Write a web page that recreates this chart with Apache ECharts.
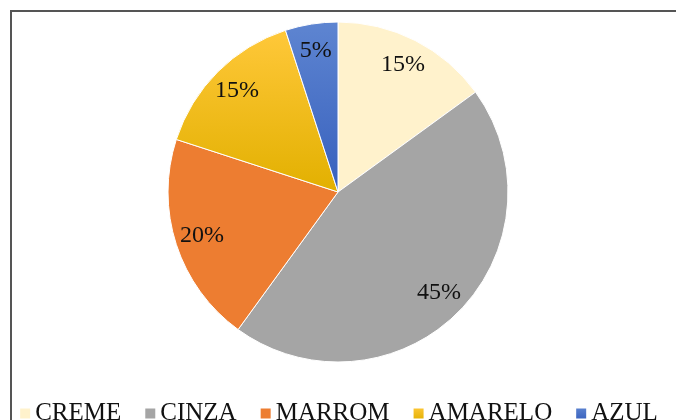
<!DOCTYPE html>
<html>
<head>
<meta charset="utf-8">
<script src="https://cdn.jsdelivr.net/npm/echarts@6/dist/echarts.min.js"></script>
<style>
  html, body { margin: 0; padding: 0; background: #fff; }
  #chart { width: 676px; height: 420px; }
</style>
</head>
<body>
<div id="chart"></div>
<script>
// dados do gráfico
var categorias = ['CREME', 'CINZA', 'MARROM', 'AMARELO', 'AZUL'];
var percentuais = [15, 45, 20, 15, 5];
var cores = [
  '#FFF2CC',
  '#A5A5A5',
  '#ED7D31',
  { type: 'linear', x: 0, y: 0, x2: 0, y2: 1, colorStops: [{ offset: 0, color: '#FFC83A' }, { offset: 1, color: '#E2B000' }] },
  { type: 'linear', x: 0, y: 0, x2: 0, y2: 1, colorStops: [{ offset: 0, color: '#5E85D1' }, { offset: 1, color: '#3760BD' }] }
];

var chart = echarts.init(document.getElementById('chart'));

var fatias = categorias.map(function (nome, i) {
  return { name: nome, value: percentuais[i], itemStyle: { color: cores[i] } };
});

// serie so para os rotulos (fica mais perto da borda, como no Excel)
var rotulos = categorias.map(function (nome, i) {
  return { name: nome, value: percentuais[i] };
});

var option = {
  animation: false,
  backgroundColor: '#fff',
  graphic: [
    {
      type: 'rect',
      shape: { x: 11, y: 11, width: 720, height: 500 },
      style: { fill: 'none', stroke: '#555', lineWidth: 2 },
      silent: true
    }
  ],
  legend: {
    data: categorias,
    left: 'center',
    top: 396,
    icon: 'rect',
    itemWidth: 12,
    itemHeight: 12,
    itemGap: 22,
    textStyle: {
      fontFamily: 'Liberation Serif',
      fontSize: 25,
      color: '#111',
      padding: [0, 0, 0, -1]
    }
  },
  series: [
    {
      name: 'cores',
      type: 'pie',
      center: [338, 192],
      radius: [0, 170],
      startAngle: 90,
      clockwise: true,
      label: { show: false },
      labelLine: { show: false },
      itemStyle: { borderColor: '#fff', borderWidth: 1 },
      emphasis: { disabled: true },
      data: fatias
    },
    {
      name: 'rotulos',
      type: 'pie',
      center: [338, 192],
      radius: [110, 170],
      startAngle: 90,
      clockwise: true,
      silent: true,
      legendHoverLink: false,
      itemStyle: { color: 'transparent' },
      emphasis: { disabled: true },
      label: {
        show: true,
        position: 'inside',
        formatter: '{c}%',
        fontFamily: 'Liberation Serif',
        fontSize: 24,
        color: '#111'
      },
      labelLine: { show: false },
      data: rotulos
    }
  ]
};

chart.setOption(option);
</script>
</body>
</html>
